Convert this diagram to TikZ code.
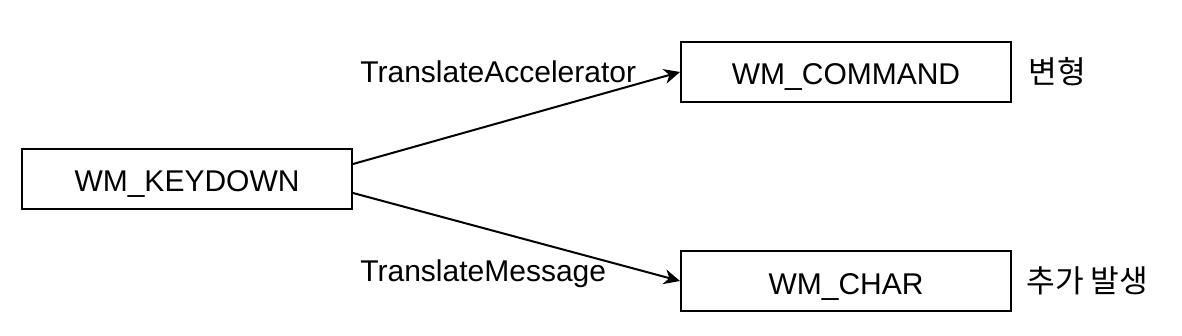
\documentclass[tikz,border=0pt]{standalone}
\usepackage{fontspec}
\setmainfont{Liberation Sans}
\newfontfamily\kofont{Noto Sans CJK KR}
\usetikzlibrary{positioning,arrows.meta}

\tikzset{
  msgbox/.style={draw, rectangle, line width=1pt, minimum width=165pt, minimum height=30pt, inner sep=0pt, text height=13pt, text depth=0pt},
  lbl/.style={inner sep=0pt},
  note/.style={inner sep=0pt, anchor=west, font=\kofont\fontsize{15.6}{18}\selectfont},
  flow/.style={-{Stealth[length=8pt, width=7.5pt, inset=2.5pt]}, line width=1pt}
}

\begin{document}
\begin{tikzpicture}[x=0.5pt, y=-0.5pt, font=\fontsize{15}{18}\selectfont]
\useasboundingbox (0,0) rectangle (1182,336);

\node[msgbox] (keydown) at (187,179) {WM\_KEYDOWN};
\node[msgbox, above right=22.5pt and 163.5pt of keydown] (command) {WM\_COMMAND};
\node[msgbox, below right=20pt and 163.5pt of keydown] (char) {WM\_CHAR};

\node[note, right=8pt of command] (cmdnote) {변형};
\node[note, right=7pt of char] (charnote) {추가 발생};

\node[lbl, anchor=base west] (accel) at (360,83) {TranslateAccelerator};
\node[lbl, anchor=base west] (transmsg) at (360,281) {TranslateMessage};

\draw[flow] (keydown.east |- 0,164) -- (command.west);
\draw[flow] (keydown.east |- 0,193) -- (char.west);

\end{tikzpicture}
\end{document}
